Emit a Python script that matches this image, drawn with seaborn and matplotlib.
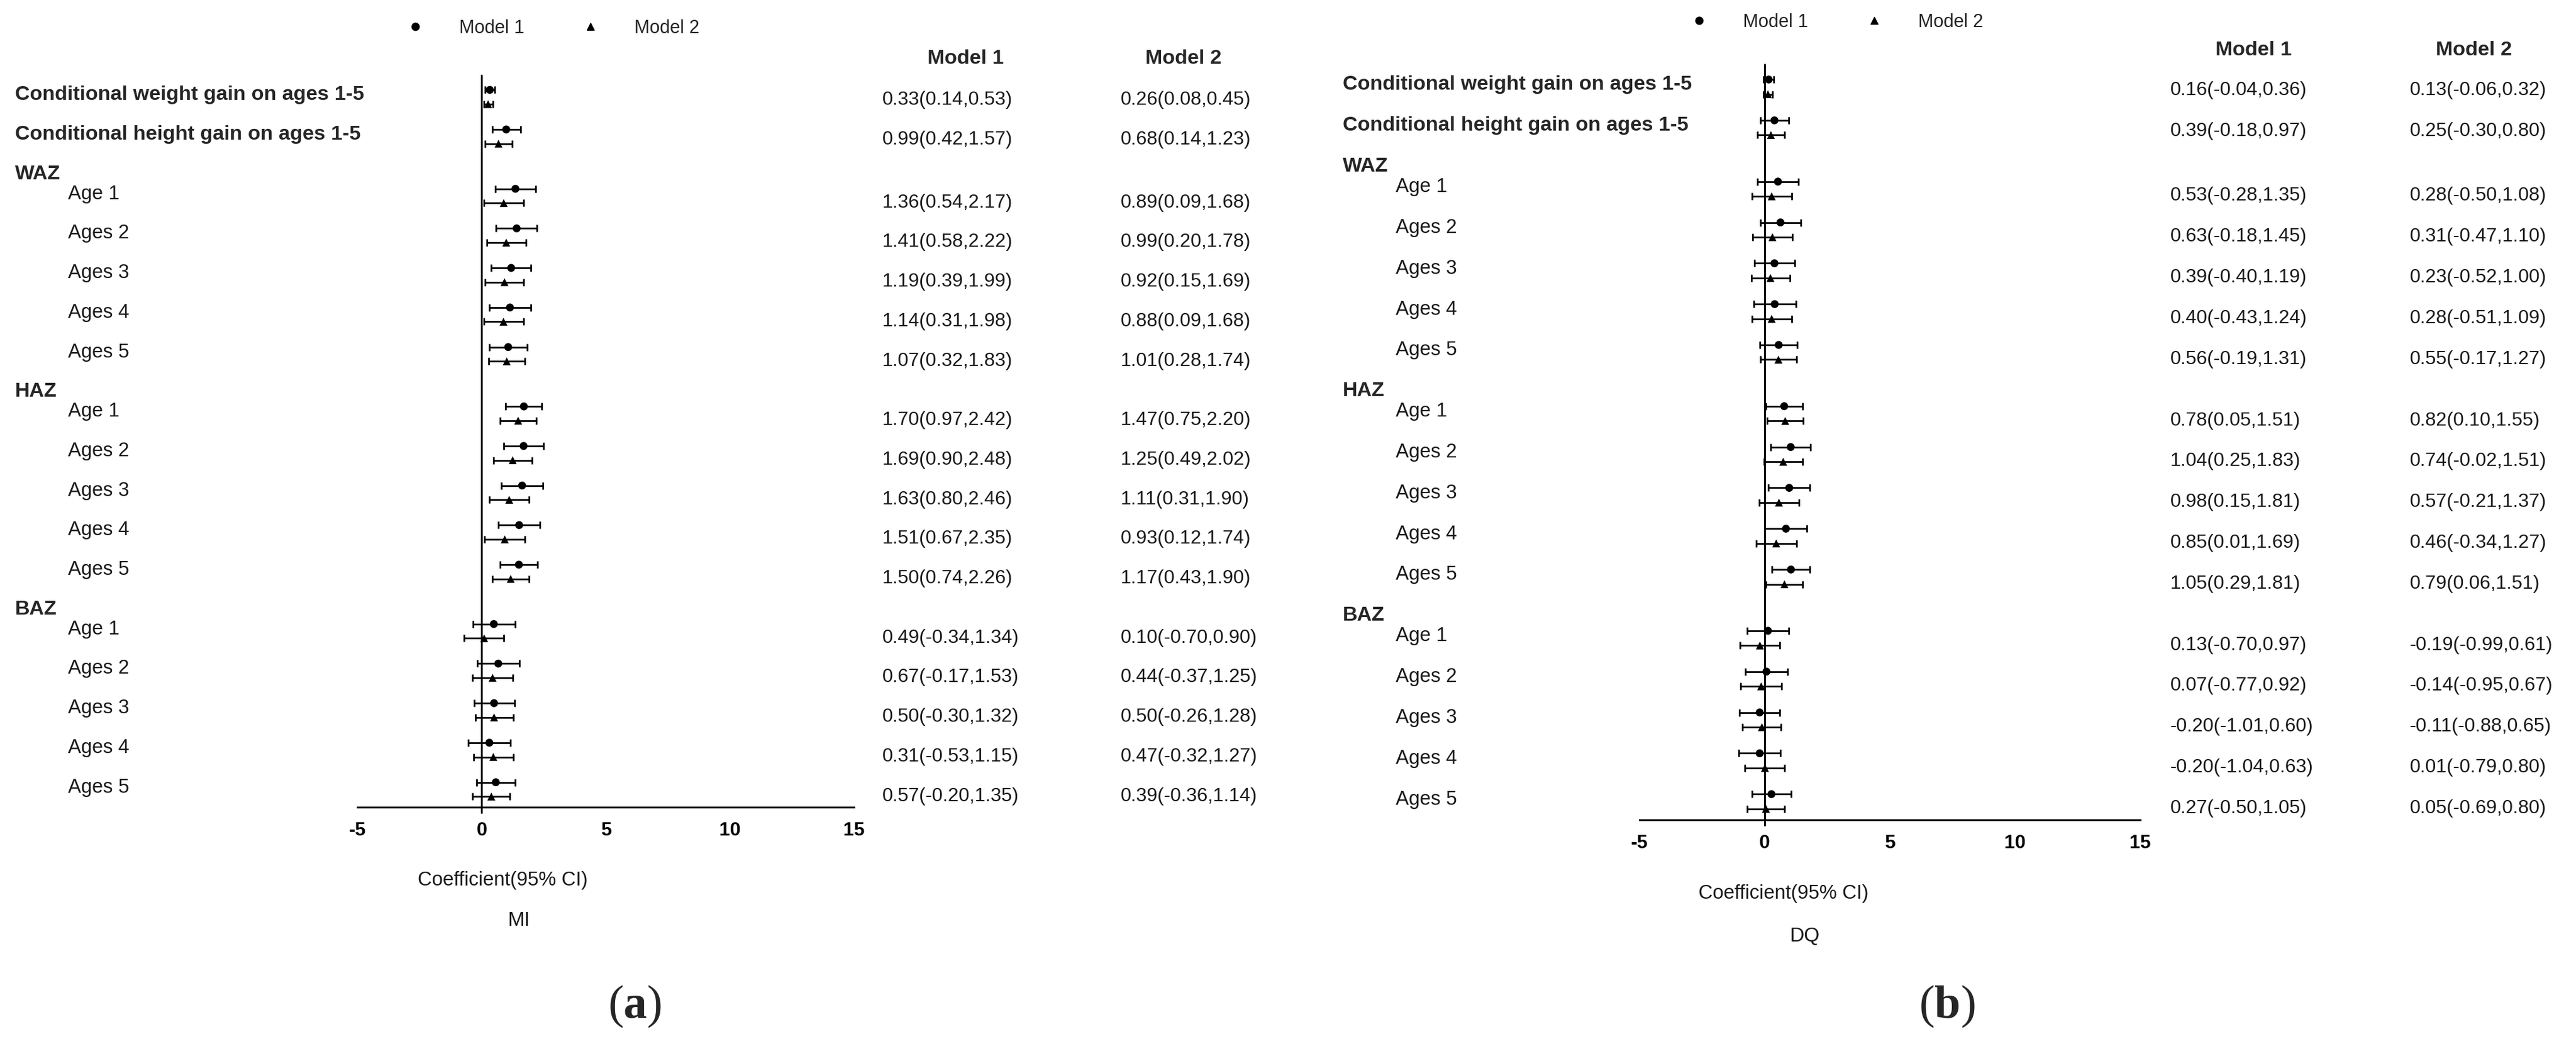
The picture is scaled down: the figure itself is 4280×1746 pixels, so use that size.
import numpy as np
import pandas as pd
import matplotlib
matplotlib.use('Agg')
import matplotlib.pyplot as plt
import matplotlib.transforms as mtransforms
from matplotlib.lines import Line2D
import seaborn as sns

sns.set_style("white")
plt.rcParams['font.family'] = ['Liberation Sans', 'DejaVu Sans']
plt.rcParams['mathtext.fontset'] = 'custom'
plt.rcParams['mathtext.rm'] = 'Liberation Serif'
plt.rcParams['mathtext.bf'] = 'Liberation Serif:bold'

# Etiquetas de filas
cond_labels = ['Conditional weight gain on ages 1-5', 'Conditional height gain on ages 1-5']
grupos = ['WAZ', 'HAZ', 'BAZ']
edades = ['Age 1', 'Ages 2', 'Ages 3', 'Ages 4', 'Ages 5']
modelos = ['Model 1', 'Model 2']
ticks_x = [-5, 0, 5, 10, 15]

# Panel (a): MI  (orden: cond peso, cond talla, WAZ 1-5, HAZ 1-5, BAZ 1-5)
mi_m1_est = [0.33, 0.99, 1.36, 1.41, 1.19, 1.14, 1.07, 1.70, 1.69, 1.63, 1.51, 1.50, 0.49, 0.67, 0.50, 0.31, 0.57]
mi_m1_lo = [0.14, 0.42, 0.54, 0.58, 0.39, 0.31, 0.32, 0.97, 0.90, 0.80, 0.67, 0.74, -0.34, -0.17, -0.30, -0.53, -0.20]
mi_m1_hi = [0.53, 1.57, 2.17, 2.22, 1.99, 1.98, 1.83, 2.42, 2.48, 2.46, 2.35, 2.26, 1.34, 1.53, 1.32, 1.15, 1.35]
mi_m2_est = [0.26, 0.68, 0.89, 0.99, 0.92, 0.88, 1.01, 1.47, 1.25, 1.11, 0.93, 1.17, 0.10, 0.44, 0.50, 0.47, 0.39]
mi_m2_lo = [0.08, 0.14, 0.09, 0.20, 0.15, 0.09, 0.28, 0.75, 0.49, 0.31, 0.12, 0.43, -0.70, -0.37, -0.26, -0.32, -0.36]
mi_m2_hi = [0.45, 1.23, 1.68, 1.78, 1.69, 1.68, 1.74, 2.20, 2.02, 1.90, 1.74, 1.90, 0.90, 1.25, 1.28, 1.27, 1.14]

# Panel (b): DQ
dq_m1_est = [0.16, 0.39, 0.53, 0.63, 0.39, 0.40, 0.56, 0.78, 1.04, 0.98, 0.85, 1.05, 0.13, 0.07, -0.20, -0.20, 0.27]
dq_m1_lo = [-0.04, -0.18, -0.28, -0.18, -0.40, -0.43, -0.19, 0.05, 0.25, 0.15, 0.01, 0.29, -0.70, -0.77, -1.01, -1.04, -0.50]
dq_m1_hi = [0.36, 0.97, 1.35, 1.45, 1.19, 1.24, 1.31, 1.51, 1.83, 1.81, 1.69, 1.81, 0.97, 0.92, 0.60, 0.63, 1.05]
dq_m2_est = [0.13, 0.25, 0.28, 0.31, 0.23, 0.28, 0.55, 0.82, 0.74, 0.57, 0.46, 0.79, -0.19, -0.14, -0.11, 0.01, 0.05]
dq_m2_lo = [-0.06, -0.30, -0.50, -0.47, -0.52, -0.51, -0.17, 0.10, -0.02, -0.21, -0.34, 0.06, -0.99, -0.95, -0.88, -0.79, -0.69]
dq_m2_hi = [0.32, 0.80, 1.08, 1.10, 1.00, 1.09, 1.27, 1.55, 1.51, 1.37, 1.27, 1.51, 0.61, 0.67, 0.65, 0.80, 0.80]

W, H = 4280, 1746
fig = plt.figure(figsize=(W / 100, H / 100), dpi=100)

# Posiciones verticales de las filas (en unidades de fila)
y_filas = [0.0, 1.0] + [2.5 + i for i in range(5)] + [8.0 + i for i in range(5)] + [13.5 + i for i in range(5)]
y_grupos = [2.5 - 0.55, 8.0 - 0.55, 13.5 - 0.55]
etiquetas = cond_labels + edades * 3


def fx(x):
    return x / W


def fy(y):
    return 1 - y / H


def dibujar_panel(m1, m2, top, axis_y, x_izq, x_der, lab_x, tab_x, head_x, head_y, leg, xlab, nombre, letra):
    ax = fig.add_axes([fx(x_izq), fy(axis_y), fx(x_der - x_izq), (axis_y - top) / H])
    filas = []
    for modelo, (est, lo, hi), off in zip(modelos, (m1, m2), (-0.18, 0.18)):
        for i in range(len(est)):
            filas.append({'modelo': modelo, 'est': est[i], 'lo': lo[i], 'hi': hi[i],
                          'y': y_filas[i] + off})
    df = pd.DataFrame(filas)

    ax.errorbar(df['est'], df['y'], xerr=[df['est'] - df['lo'], df['hi'] - df['est']],
                fmt='none', ecolor='black', elinewidth=2, capsize=4.5, capthick=2)
    sns.scatterplot(data=df, x='est', y='y', style='modelo', markers={'Model 1': 'o', 'Model 2': '^'},
                    color='black', s=90, linewidth=0, legend=False, ax=ax, zorder=3)

    ax.set_xlim(-5, 15)
    ax.set_ylim(17.95, -0.55)
    ax.set_xticks(ticks_x)
    ax.set_xticklabels([str(t) for t in ticks_x], fontsize=23, fontweight='bold')
    ax.set_yticks([])
    ax.set_xlabel('')
    ax.set_ylabel('')
    for s in ['top', 'right', 'left']:
        ax.spines[s].set_visible(False)
    ax.spines['bottom'].set_linewidth(2.2)
    ax.spines['bottom'].set_color('black')
    ax.tick_params(axis='x', direction='out', length=6.5, width=2.2, pad=11, colors='black')
    ax.axvline(0, ymin=-0.0075, ymax=1, color='black', lw=2.2, clip_on=False, zorder=2)
    ax.patch.set_alpha(0)

    tr = mtransforms.blended_transform_factory(fig.transFigure, ax.transData)
    for i, lab in enumerate(etiquetas):
        if i < 2:
            ax.text(fx(lab_x), y_filas[i] - 0.05, lab, transform=tr, fontsize=24.5, fontweight='bold',
                    va='center', ha='left', clip_on=False)
        else:
            ax.text(fx(lab_x + 88), y_filas[i] - 0.05, lab, transform=tr, fontsize=23.5,
                    color='#1a1a1a', va='center', ha='left', clip_on=False)
    for g, yg in zip(grupos, y_grupos):
        ax.text(fx(lab_x), yg, g, transform=tr, fontsize=24.5, fontweight='bold',
                va='center', ha='left', clip_on=False)

    # Tabla de valores
    for j, (est, lo, hi) in enumerate((m1, m2)):
        for i in range(len(est)):
            off = 0.08 if i < 2 else 0.17
            ax.text(fx(tab_x[j]), y_filas[i] + off, f'{est[i]:.2f}({lo[i]:.2f},{hi[i]:.2f})',
                    transform=tr, fontsize=23, color='#1a1a1a', va='center', ha='left', clip_on=False)
        fig.text(fx(head_x[j]), fy(head_y), modelos[j], fontsize=24.5, fontweight='bold',
                 ha='center', va='center')

    # Leyenda
    handles = [Line2D([], [], marker=mk, linestyle='none', color='black', markersize=9)
               for mk in ('o', '^')]
    fig.legend(handles, modelos, loc='center left', bbox_to_anchor=(fx(leg[0]), fy(leg[1])),
               ncol=2, frameon=False, fontsize=22, handlelength=1.0, handletextpad=1.9,
               columnspacing=3.1, borderpad=0.4, borderaxespad=0)

    fig.text(fx(xlab[0]), fy(xlab[1]), 'Coefficient(95% CI)', fontsize=23.5, color='#1a1a1a',
             ha='center', va='center')
    fig.text(fx(xlab[2]), fy(xlab[3]), nombre, fontsize=24, color='#1a1a1a', ha='center', va='center')
    fig.text(fx(letra[0]), fy(letra[1]), r'($\mathbf{' + letra[2] + '}$)', fontsize=56,
             fontfamily='Liberation Serif', ha='center', va='center')
    return ax


dibujar_panel((mi_m1_est, mi_m1_lo, mi_m1_hi), (mi_m2_est, mi_m2_lo, mi_m2_hi),
              top=125, axis_y=1341, x_izq=594, x_der=1419, lab_x=25, tab_x=(1466, 1862),
              head_x=(1604, 1966), head_y=98, leg=(662, 47), xlab=(835, 1462, 862, 1530),
              nombre='MI', letra=(1055, 1672, 'a'))
dibujar_panel((dq_m1_est, dq_m1_lo, dq_m1_hi), (dq_m2_est, dq_m2_lo, dq_m2_hi),
              top=107, axis_y=1362, x_izq=2724, x_der=3556, lab_x=2231, tab_x=(3606, 4004),
              head_x=(3744, 4110), head_y=83, leg=(2795, 37), xlab=(2963, 1485, 2998, 1555),
              nombre='DQ', letra=(3235, 1672, 'b'))

plt.savefig('out.png', dpi=100, facecolor='white')
plt.close()
